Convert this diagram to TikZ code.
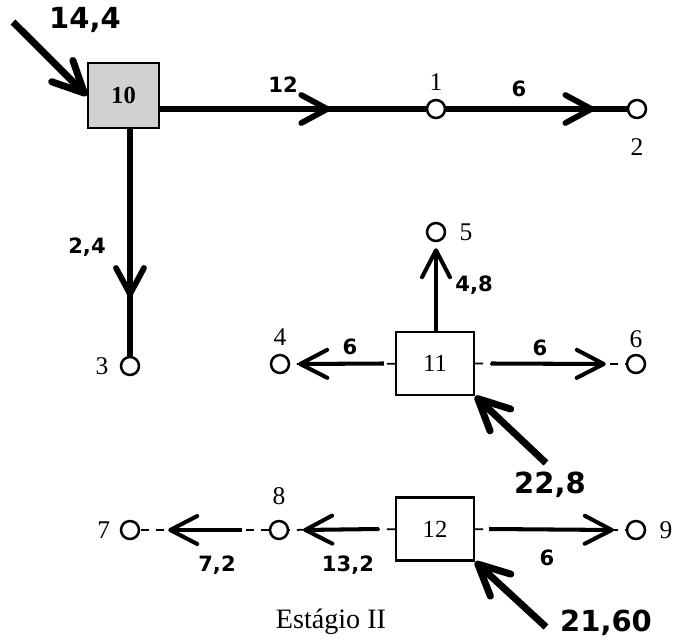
\documentclass[tikz,border=0pt]{standalone}
\usepackage{fontspec}
\setmainfont{Liberation Serif}
\newfontfamily\qtyfont{DejaVu Sans}
\usepackage{tikz}
\usetikzlibrary{arrows.meta}
\usetikzlibrary{decorations.markings}
\tikzstyle{unit}=[draw,rectangle,line width=1.4pt,minimum width=15.6mm,minimum height=12.6mm,inner sep=0,font=\fontsize{14}{14}\selectfont]
\tikzstyle{point}=[draw,circle,line width=1.4pt,minimum size=3.6mm,inner sep=0]
\tikzstyle{qty}=[inner sep=0,font=\qtyfont\bfseries\fontsize{12}{12}\selectfont]
\tikzstyle{big}=[inner sep=0,font=\qtyfont\bfseries\fontsize{16.5}{16.5}\selectfont]
\tikzstyle{flow}=[line width=3.3pt]
\tikzstyle{flowb}=[line width=2.3pt,-{Straight Barb[length=5.4mm,width=5.6mm,round]}]
\tikzstyle{stub}=[line width=1pt,dash pattern=on 1.6mm off 1.4mm]
\tikzstyle{inflow}=[line width=4pt,-{Straight Barb[length=6.2mm,width=6mm,round]}]
\tikzset{midarr/.style={postaction={decorate},decoration={markings,
  mark=at position #1 with {\arrow{Straight Barb[length=5.2mm,width=5.6mm,round]}}}}}

\begin{document}
\begin{tikzpicture}[x=0.2mm,y=-0.2mm,
  every label/.style={inner sep=0,font=\fontsize{14.5}{14.5}\selectfont}]
\useasboundingbox (0,0) rectangle (686,643);

	\node[unit,fill=black!18,minimum width=14.2mm,minimum height=13mm,
	font=\bfseries\fontsize{14}{14}\selectfont] (b10) at (123.5,95.5) {10};
	\node[unit] (b11) at (435,363.5) {11};
	\node[unit] (b12) at (435,529) {12};

	\node[point,label={[label distance=1.6mm]above:1}] (n1) at (436,109) {};
	\node[point,label={[label distance=3.8mm]below:2}] (n2) at (637,109) {};
	\node[point,label={[label distance=2.2mm]left:3}] (n3) at (130,366) {};
	\node[point,label={[label distance=1.6mm]above:4}] (n4) at (280,364) {};
	\node[point,label={[label distance=2.6mm]right:5}] (n5) at (436,232) {};
	\node[point,label={[label distance=1.2mm]above:6}] (n6) at (636,364) {};
	\node[point,label={[label distance=1.85mm]left:7}] (n7) at (130,530) {};
	\node[point,label={[label distance=3mm]above:8}] (n8) at (279,530) {};
	\node[point,label={[label distance=2.6mm]right:9}] (n9) at (636,530) {};

% % % unit 10
	\coordinate (in10) at (13,22);
	\draw[inflow] (in10) -- (b10.west);
	\node[big] (q10) at (85,20) {14,4};

	\path[draw,flow,midarr=0.64] (n1 -| b10.east) -- (n1);
	\path[draw,flow,midarr=0.82] (n1) -- (n2);
	\path[draw,flow,midarr=0.74] (b10.south -| n3) -- (n3);

	\node[qty] (f1) at (283,85) {12};
	\node[qty] (f2) at (519,89) {6};
	\node[qty] (f3) at (87,247) {2,4};

% % % unit 11
	\coordinate (in11) at (546,463);
	\draw[inflow] (in11) -- (b11.south east);
	\node[big] (q11) at (550,485) {22,8};

	\draw[flowb,shorten >=1.2mm] (b11.north -| n5) -- (n5);
	\draw[stub] (b11) -- (n4);
	\draw[flowb] ([xshift=-2.2mm]b11.west) -- ([xshift=1.6mm]n4.east);
	\draw[stub] (b11) -- (n6);
	\draw[flowb] ([xshift=3.2mm]b11.east) -- ([xshift=-4mm]n6.west);

	\node[qty] (f5) at (474,285) {4,8};
	\node[qty] (f4) at (350,347) {6};
	\node[qty] (f6) at (540,348) {6};

% % % unit 12
	\coordinate (in12) at (546,627);
	\draw[inflow] (in12) -- (b12.south east);
	\node[big] (q12) at (606,623) {21,60};

	\draw[stub] (b12) -- (n8);
	\draw[flowb] ([xshift=-3.2mm]b12.west) -- ([xshift=2.8mm]n8.east);
	\draw[stub] (n8) -- (n7);
	\draw[flowb] ([xshift=-5.4mm]n8.west) -- ([xshift=5.6mm]n7.east);
	\draw[stub] (b12) -- (n9);
	\draw[flowb] ([xshift=2.8mm]b12.east) -- ([xshift=-2.4mm]n9.west);

	\node[qty] (f8) at (348,565) {13,2};
	\node[qty] (f7) at (217,565) {7,2};
	\node[qty] (f9) at (547,558) {6};

	\node[anchor=base,font=\fontsize{16}{16}\selectfont] (stage) at (331,628) {Estágio II};
\end{tikzpicture}
\end{document}
